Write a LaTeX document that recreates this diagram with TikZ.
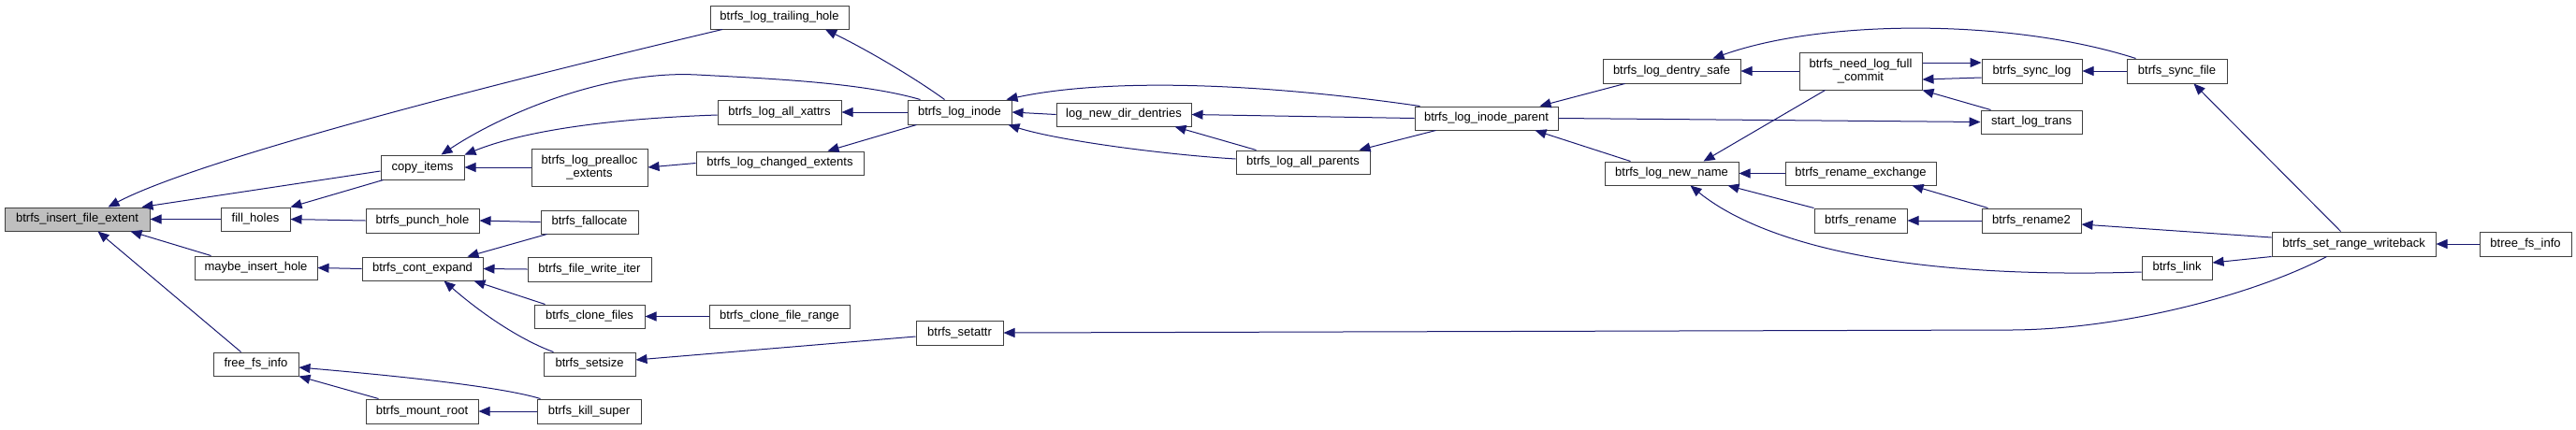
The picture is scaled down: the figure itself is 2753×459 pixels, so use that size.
\documentclass[tikz,border=0pt]{standalone}
\usepackage{fontspec}
\setmainfont{Liberation Sans}
\usetikzlibrary{arrows.meta}
\definecolor{edgec}{HTML}{191970}
\definecolor{boxc}{HTML}{404040}
\definecolor{hl}{HTML}{BFBFBF}
\tikzset{
 box/.style={draw=boxc, line width=1pt, fill=white, inner sep=0pt, font=\fontsize{13}{14}\selectfont, align=center},
 edge/.style={draw=edgec, line width=1pt, >={Triangle[length=12pt,width=10pt]}},
}
\newcommand\mkbox[7][]{\node[box,#1,minimum width={(#5-#3)*1pt},minimum height={(#6-#4)*1pt}] (#2) at ({(#3+#5)/2},{(#4+#6)/2}) {#7};}
\begin{document}
\begin{tikzpicture}[x=1pt,y=-1pt]
\useasboundingbox (0,0) rectangle (2753,459);
% edges first (drawn under boxes)
\begin{scope}[on background layer/.style={}]
\end{scope}
% nodes
\mkbox[fill=hl]{ins}{5}{222}{160}{247}{btrfs\_insert\_file\_extent}
\mkbox{copy}{407}{166}{496}{192}{copy\_items}
\mkbox{fill}{236}{222}{310}{247}{fill\_holes}
\mkbox{punch}{391}{223}{512}{249}{btrfs\_punch\_hole}
\mkbox{maybe}{208}{274}{339}{299}{maybe\_insert\_hole}
\mkbox{cont}{387}{275}{516}{300}{btrfs\_cont\_expand}
\mkbox{free}{228}{377}{319}{402}{free\_fs\_info}
\mkbox{mount}{391}{427}{511}{453}{btrfs\_mount\_root}
\mkbox{trail}{759}{6}{907}{31}{btrfs\_log\_trailing\_hole}
\mkbox{xattrs}{767}{107}{899}{133}{btrfs\_log\_all\_xattrs}
\mkbox{prealloc}{568}{159}{692}{199}{btrfs\_log\_prealloc\\\_extents}
\mkbox{changed}{744}{162}{923}{187}{btrfs\_log\_changed\_extents}
\mkbox{falloc}{578}{225}{682}{250}{btrfs\_fallocate}
\mkbox{fwi}{564}{275}{696}{301}{btrfs\_file\_write\_iter}
\mkbox{clonef}{571}{326}{689}{351}{btrfs\_clone\_files}
\mkbox{clonefr}{758}{326}{908}{351}{btrfs\_clone\_file\_range}
\mkbox{setsize}{581}{377}{679}{402}{btrfs\_setsize}
\mkbox{kill}{574}{427}{685}{453}{btrfs\_kill\_super}
\mkbox{inode}{970}{107}{1081}{133}{btrfs\_log\_inode}
\mkbox{dentries}{1129}{110}{1273}{135}{log\_new\_dir\_dentries}
\mkbox{allpar}{1321}{161}{1464}{186}{btrfs\_log\_all\_parents}
\mkbox{setattr}{979}{343}{1072}{369}{btrfs\_setattr}
\mkbox{iparent}{1512}{114}{1665}{139}{btrfs\_log\_inode\_parent}
\mkbox{dsafe}{1713}{63}{1860}{89}{btrfs\_log\_dentry\_safe}
\mkbox{newname}{1715}{173}{1858}{198}{btrfs\_log\_new\_name}
\mkbox{needfull}{1923}{56}{2054}{96}{btrfs\_need\_log\_full\\\_commit}
\mkbox{synclog}{2118}{63}{2225}{89}{btrfs\_sync\_log}
\mkbox{startlt}{2117}{118}{2225}{143}{start\_log\_trans}
\mkbox{rexch}{1908}{173}{2069}{198}{btrfs\_rename\_exchange}
\mkbox{rename}{1939}{223}{2038}{249}{btrfs\_rename}
\mkbox{rename2}{2118}{223}{2224}{249}{btrfs\_rename2}
\mkbox{syncfile}{2273}{63}{2380}{89}{btrfs\_sync\_file}
\mkbox{link}{2289}{274}{2364}{299}{btrfs\_link}
\mkbox{setrange}{2428}{248}{2603}{274}{btrfs\_set\_range\_writeback}
\mkbox{btree}{2650}{248}{2748}{274}{btree\_fs\_info}
% edges
\draw[edge,<-] ([xshift=33pt]ins.north) .. controls (190,182) and (400,120) .. ([xshift=-61pt]trail.south);
\draw[edge,<-] ([xshift=69pt]ins.north) -- ([yshift=-4pt]copy.west);
\draw[edge,<-] (ins.east) -- (fill.west);
\draw[edge,<-] ([xshift=57pt]ins.south) -- ([xshift=-48pt]maybe.north);
\draw[edge,<-] ([xshift=22pt]ins.south) -- ([xshift=-16pt]free.north);
\draw[edge,<-] ([xshift=20pt]copy.north) .. controls (540,120) and (650,75) .. (745,80) .. controls (820,84) and (920,88) .. ([xshift=-42pt]inode.north);
\draw[edge,<-] (copy.north east) .. controls (560,140) and (650,127) .. ([yshift=-3pt]xattrs.west);
\draw[edge,<-] (copy.east) -- (prealloc.west);
\draw[edge,<-] (fill.north east) -- ([xshift=3pt]copy.south west);
\draw[edge,<-] (fill.east) -- (punch.west);
\draw[edge,<-] (xattrs.east) -- (inode.west);
\draw[edge,<-] (prealloc.east) -- (changed.west);
\draw[edge,<-] ([xshift=51pt]changed.north) -- ([xshift=10pt]inode.south west);
\draw[edge,<-] ([xshift=49pt]trail.south) .. controls (930,55) and (980,85) .. ([xshift=-16pt]inode.north);
\draw[edge,<-] (punch.east) -- (falloc.west);
\draw[edge,<-] (maybe.east) -- (cont.west);
\draw[edge,<-] ([xshift=48pt]cont.north) -- ([xshift=7pt]falloc.south west);
\draw[edge,<-] (cont.east) -- (fwi.west);
\draw[edge,<-] ([xshift=-10pt]cont.south east) -- ([xshift=12pt]clonef.north west);
\draw[edge,<-] ([xshift=23pt]cont.south) .. controls (520,340) and (560,365) .. ([xshift=11pt]setsize.north west);
\draw[edge,<-] (clonef.east) -- (clonefr.west);
\draw[edge,<-] ([yshift=4.5pt]setsize.east) -- ([yshift=-4pt]setattr.west);
\draw[edge,<-] ([yshift=-3.5pt]free.east) .. controls (400,400) and (530,412) .. ([xshift=4pt]kill.north west);
\draw[edge,<-] (free.south east) -- ([xshift=14pt]mount.north west);
\draw[edge,<-] (mount.east) -- (kill.west);
\draw[edge,<-] (inode.east) -- (dentries.west);
\draw[edge,<-] ([xshift=-6pt]inode.north east) .. controls (1170,86) and (1320,85) .. ([xshift=6pt]iparent.north west);
\draw[edge,<-] ([xshift=-4pt]inode.south east) .. controls (1130,150) and (1240,165) .. ([yshift=3.5pt]allpar.west);
\draw[edge,<-] (dentries.east) -- (iparent.west);
\draw[edge,<-] ([xshift=-18pt]dentries.south east) -- ([xshift=22pt]allpar.north west);
\draw[edge,<-] ([xshift=-12pt]allpar.north east) -- ([xshift=23pt]iparent.south west);
\draw[edge,<-] ([xshift=-20pt]iparent.north east) -- ([xshift=24pt]dsafe.south west);
\draw[edge,<-] ([xshift=-25pt]iparent.south east) -- ([xshift=28pt]newname.north west);
\draw[edge,->] (iparent.east) -- (startlt.west);
\draw[edge,<-] (dsafe.east) -- (needfull.west);
\draw[edge,<-] ([xshift=-30pt]dsafe.north east) .. controls (1950,20) and (2150,20) .. ([xshift=10pt]syncfile.north west);
\draw[edge,->] ([yshift=9pt]needfull.east) -- ([yshift=9pt]synclog.west);
\draw[edge,<-] ([yshift=-9pt]needfull.east) -- ([yshift=-7pt]synclog.west);
\draw[edge,<-] (needfull.south east) -- ([xshift=11pt]startlt.north west);
\draw[edge,<-] ([xshift=-38pt]newname.north east) -- ([xshift=28pt]needfull.south west);
\draw[edge,<-] (newname.east) -- (rexch.west);
\draw[edge,<-] ([xshift=-12pt]newname.south east) -- (rename.north west);
\draw[edge,<-] ([xshift=20pt]newname.south) .. controls (1870,250) and (2000,300) .. ([yshift=-4.5pt]link.west);
\draw[edge,<-] (synclog.east) -- (syncfile.west);
\draw[edge,<-] ([xshift=18pt]syncfile.south) -- ([xshift=-14pt]setrange.north);
\draw[edge,<-] ([xshift=-26pt]rexch.south east) -- ([xshift=7pt]rename2.north west);
\draw[edge,<-] (rename.east) -- (rename2.west);
\draw[edge,<-] ([yshift=-4pt]rename2.east) -- ([yshift=7pt]setrange.west);
\draw[edge,<-] ([yshift=5.5pt]link.east) -- (setrange.south west);
\draw[edge,<-] (setattr.east) -- (2150,353) .. controls (2280,352) and (2420,310) .. ([xshift=-29pt]setrange.south);
\draw[edge,<-] (setrange.east) -- (btree.west);
\end{tikzpicture}
\end{document}
